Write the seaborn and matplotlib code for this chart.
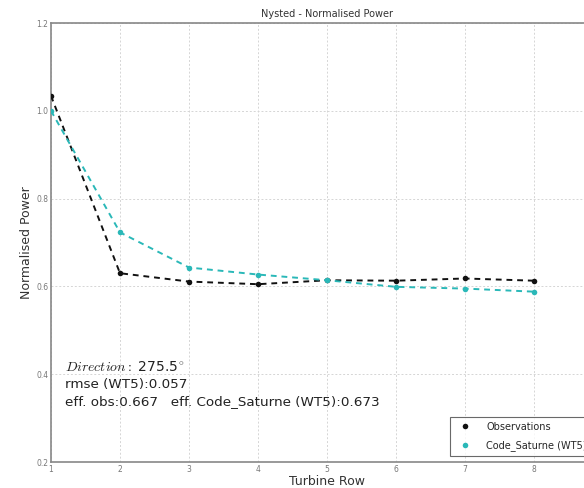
import matplotlib
matplotlib.use("Agg")
import matplotlib.pyplot as plt
from matplotlib.lines import Line2D
import seaborn as sns
import pandas as pd

rows = [1, 2, 3, 4, 5, 6, 7, 8]
observations = [1.034, 0.630, 0.611, 0.605, 0.614, 0.613, 0.618, 0.613]
code_saturne = [1.000, 0.723, 0.643, 0.627, 0.614, 0.599, 0.595, 0.588]
series_names = ["Observations", "Code_Saturne (WT5)"]
colors = ["#111111", "#2ab8b8"]
yticks = [0.2, 0.4, 0.6, 0.8, 1.0, 1.2]

df = pd.DataFrame({
    "row": rows * 2,
    "power": observations + code_saturne,
    "series": [series_names[0]] * len(rows) + [series_names[1]] * len(rows),
})

sns.set_style("whitegrid")
plt.rcParams["font.family"] = ["DejaVu Sans"]
plt.rcParams["mathtext.fontset"] = "cm"

fig = plt.figure(figsize=(5.84, 4.88), dpi=100)
ax = fig.add_axes([51 / 584, 1 - 462 / 488, 552 / 584, 439 / 488])

sns.lineplot(data=df, x="row", y="power", hue="series", palette=colors,
             marker="o", markersize=4, markeredgewidth=0, linewidth=1.4,
             ax=ax, legend=False, zorder=3)
for line in ax.lines:
    line.set_linestyle((0, (3, 2.5)))

ax.set_xlim(1, 9)
ax.set_ylim(0.2, 1.2)
ax.set_xticks(rows)
ax.set_yticks(yticks)
ax.set_xticklabels([str(r) for r in rows], fontsize=5.5, color="#777777")
ax.set_yticklabels([f"{v:.1f}" for v in yticks], fontsize=5.5, color="#777777")
ax.tick_params(axis="both", length=2, pad=2, direction="in", color="#777777")
ax.grid(True, linestyle=(0, (2, 2)), color="#d5d5d5", linewidth=0.7)
for s in ax.spines.values():
    s.set_color("#888888")
    s.set_linewidth(1.2)

ax.set_title("Nysted - Normalised Power", fontsize=7, color="#333333", pad=4)
ax.set_xlabel("Turbine Row", fontsize=9, color="#333333", labelpad=1)
ax.set_ylabel("Normalised Power", fontsize=9, color="#333333", labelpad=2)

ax.text(0.025, 0.215, r"$Direction:$ 275.5$^{\circ}$", transform=ax.transAxes,
        fontsize=10, color="#222222", va="center")
ax.text(0.025, 0.177, "rmse (WT5):0.057", transform=ax.transAxes,
        fontsize=9.7, color="#222222", va="center")
ax.text(0.025, 0.138, "eff. obs:0.667   eff. Code_Saturne (WT5):0.673",
        transform=ax.transAxes, fontsize=9.7, color="#222222", va="center")

handles = [Line2D([], [], linestyle="none", marker="o", markersize=4,
                  markeredgewidth=0, color=c) for c in colors]
leg = ax.legend(handles, series_names, loc="lower right", fontsize=7,
                frameon=True, fancybox=False, borderpad=0.5,
                labelspacing=0.9, handletextpad=1.2, borderaxespad=0.6,
                bbox_to_anchor=(0.99, 0.0))
leg.get_frame().set_edgecolor("#444444")
leg.get_frame().set_linewidth(0.8)

fig.savefig("out.png", dpi=100)
